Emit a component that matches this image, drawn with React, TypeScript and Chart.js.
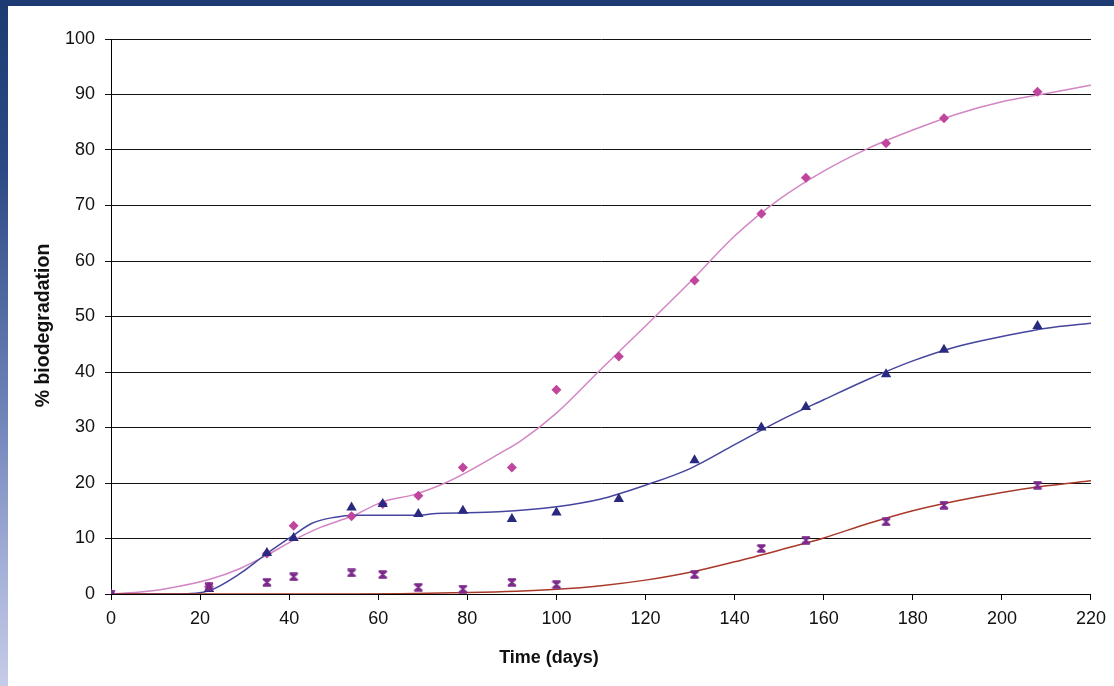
import React, { useEffect, useRef } from "react";
import { Chart, registerables } from "chart.js";

Chart.register(...registerables);

// Measured data points (days since start)
const sampleDays = [0, 22, 35, 41, 54, 61, 69, 79, 90, 100, 114, 131, 146, 156, 174, 187, 208];
const diamondValues = [0, 1.3, 7.3, 12.3, 14.0, 16.2, 17.7, 22.8, 22.8, 36.8, 42.8, 56.5, 68.5, 75.0, 81.2, 85.7, 90.5];
const triangleValues = [0, 0.9, 7.4, 10.1, 15.6, 16.2, 14.4, 15.0, 13.5, 14.7, 17.1, 24.1, 30.0, 33.7, 39.6, 44.0, 48.3];
const crossValues = [0, 1.3, 2.1, 3.1, 3.8, 3.5, 1.2, 0.9, 2.1, 1.7, null, 3.5, 8.2, 9.7, 13.0, 16.0, 19.6];

// Fitted trend curves
const pinkFitDays = [0, 6, 12, 22, 29, 35, 41, 47, 54, 61, 68, 75, 80, 87, 92, 100, 110, 120, 130, 140, 150, 160, 170, 180, 190, 200, 210, 220];
const pinkFitValues = [0, 0.3, 0.9, 2.6, 4.6, 7.0, 9.7, 12.0, 14.0, 16.6, 17.9, 20.0, 22.0, 25.2, 27.6, 32.6, 40.5, 48.3, 56.2, 64.5, 71.1, 76.2, 80.3, 83.6, 86.5, 88.7, 90.2, 91.7];

const blueFitDays = [0, 15, 22, 29, 35, 41, 45, 50, 55, 62, 69, 73, 87, 100, 110, 120, 130, 140, 150, 160, 170, 180, 190, 200, 210, 220];
const blueFitValues = [0, 0, 0.6, 3.7, 7.3, 10.6, 12.7, 13.8, 14.2, 14.2, 14.2, 14.5, 14.8, 15.7, 17.1, 19.6, 22.6, 26.9, 31.2, 35.0, 38.7, 42.0, 44.6, 46.4, 47.9, 48.8];

const redFitDays = [0, 55, 65, 80, 91, 100, 110, 120, 130, 140, 150, 160, 170, 180, 190, 200, 210, 220];
const redFitValues = [0, 0, 0.05, 0.25, 0.5, 0.85, 1.5, 2.5, 3.9, 5.8, 7.9, 10.1, 12.7, 15.0, 16.8, 18.3, 19.5, 20.4];

const xTicks = [0, 20, 40, 60, 80, 100, 120, 140, 160, 180, 200, 220];
const yTicks = [0, 10, 20, 30, 40, 50, 60, 70, 80, 90, 100];

const X_TITLE = "Time (days)";
const Y_TITLE = "% biodegradation";

const FONT = 'Arial, "Liberation Sans", sans-serif';

const toPoints = (xs: number[], ys: (number | null)[]) =>
  xs.map((x, i) => ({ x, y: ys[i] })).filter((p) => p.y !== null);

function makeHourglass(color: string) {
  const c = document.createElement("canvas");
  c.width = 10;
  c.height = 9;
  const g = c.getContext("2d")!;
  g.fillStyle = color;
  g.strokeStyle = color;
  g.lineWidth = 1.7;
  g.beginPath();
  g.moveTo(2, 1.2);
  g.lineTo(8, 1.2);
  g.lineTo(5, 4.5);
  g.closePath();
  g.fill();
  g.beginPath();
  g.moveTo(2, 7.8);
  g.lineTo(8, 7.8);
  g.lineTo(5, 4.5);
  g.closePath();
  g.fill();
  g.beginPath();
  g.moveTo(1, 1);
  g.lineTo(9, 8);
  g.moveTo(9, 1);
  g.lineTo(1, 8);
  g.moveTo(1, 1.2);
  g.lineTo(9, 1.2);
  g.moveTo(1, 7.8);
  g.lineTo(9, 7.8);
  g.stroke();
  return c;
}

const axisTitles = {
  id: "axisTitles",
  afterDraw(chart: any) {
    const { ctx, chartArea } = chart;
    ctx.save();
    ctx.fillStyle = "#111";
    ctx.textAlign = "center";
    ctx.textBaseline = "middle";
    ctx.font = `bold 18px ${FONT}`;
    ctx.fillText(X_TITLE, chartArea.left + 438, chartArea.bottom + 64);
    ctx.font = `bold 19.5px ${FONT}`;
    ctx.translate(44, (chartArea.top + chartArea.bottom) / 2 + 9);
    ctx.rotate(-Math.PI / 2);
    ctx.fillText(Y_TITLE, 0, 0);
    ctx.restore();
  },
};

export default function App() {
  const ref = useRef<HTMLCanvasElement | null>(null);

  useEffect(() => {
    if (!ref.current) return;
    const hourglass = makeHourglass("#7b2a8b");
    const chart = new Chart(ref.current, {
      type: "scatter",
      data: {
        datasets: [
          {
            label: "fit 1",
            data: toPoints(pinkFitDays, pinkFitValues),
            showLine: true,
            borderColor: "#d286c4",
            borderWidth: 1.5,
            pointRadius: 0,
            cubicInterpolationMode: "monotone",
            order: 10,
          },
          {
            label: "fit 2",
            data: toPoints(blueFitDays, blueFitValues),
            showLine: true,
            borderColor: "#45459f",
            borderWidth: 1.5,
            pointRadius: 0,
            cubicInterpolationMode: "monotone",
            order: 9,
          },
          {
            label: "fit 3",
            data: toPoints(redFitDays, redFitValues),
            showLine: true,
            borderColor: "#a8382a",
            borderWidth: 1.5,
            pointRadius: 0,
            cubicInterpolationMode: "monotone",
            order: 8,
          },
          {
            label: "series 1",
            data: toPoints(sampleDays, diamondValues),
            pointStyle: "rectRot",
            pointRadius: 5,
            backgroundColor: "#c0459d",
            borderColor: "#c0459d",
            borderWidth: 0,
            order: 3,
          },
          {
            label: "series 2",
            data: toPoints(sampleDays, triangleValues),
            pointStyle: "triangle",
            pointRadius: 6,
            backgroundColor: "#29297f",
            borderColor: "#29297f",
            borderWidth: 0,
            order: 2,
          },
          {
            label: "series 3",
            data: toPoints(sampleDays, crossValues),
            pointStyle: hourglass,
            pointRadius: 5,
            backgroundColor: "#7b2a8b",
            borderColor: "#7b2a8b",
            order: 1,
          },
        ],
      },
      options: {
        responsive: false,
        animation: false,
        events: [],
        layout: { padding: { top: 39, right: 23, left: 0, bottom: 0 } },
        plugins: { legend: { display: false }, tooltip: { enabled: false } },
        scales: {
          x: {
            type: "linear",
            min: 0,
            max: 220,
            afterFit: (s: any) => {
              s.height = 92;
            },
            afterBuildTicks: (s: any) => {
              s.ticks = xTicks.map((v) => ({ value: v }));
            },
            grid: {
              drawOnChartArea: false,
              drawTicks: true,
              tickLength: 6,
              color: "#000",
              lineWidth: 1,
            },
            border: { display: true, color: "#000", width: 1 },
            ticks: {
              padding: 8,
              color: "#111",
              font: { size: 18, family: FONT },
              maxRotation: 0,
            },
          },
          y: {
            type: "linear",
            min: 0,
            max: 100,
            afterFit: (s: any) => {
              s.width = 111;
            },
            afterBuildTicks: (s: any) => {
              s.ticks = yTicks.map((v) => ({ value: v }));
            },
            grid: {
              drawTicks: true,
              tickLength: 6,
              color: "#111",
              lineWidth: 1,
            },
            border: { display: true, color: "#000", width: 1 },
            ticks: {
              padding: 10,
              color: "#111",
              font: { size: 18, family: FONT },
            },
          },
        },
      },
      plugins: [axisTitles],
    });
    return () => chart.destroy();
  }, []);

  return (
    <div
      style={{
        position: "fixed",
        left: 0,
        top: 0,
        width: 1114,
        height: 686,
        background: "#fff",
        overflow: "hidden",
      }}
    >
      <canvas
        ref={ref}
        width={1114}
        height={686}
        style={{ position: "absolute", left: 0, top: 0, width: 1114, height: 686 }}
      />
      <div
        style={{
          position: "absolute",
          left: 0,
          top: 0,
          width: 1114,
          height: 6,
          background: "#1d3b72",
        }}
      />
      <div
        style={{
          position: "absolute",
          left: 0,
          top: 0,
          width: 8,
          height: 686,
          background:
            "linear-gradient(to bottom, #1d3b72 0%, #2c4a85 25%, #6f83b9 60%, #a9b4da 85%, #c6cce8 100%)",
        }}
      />
    </div>
  );
}
